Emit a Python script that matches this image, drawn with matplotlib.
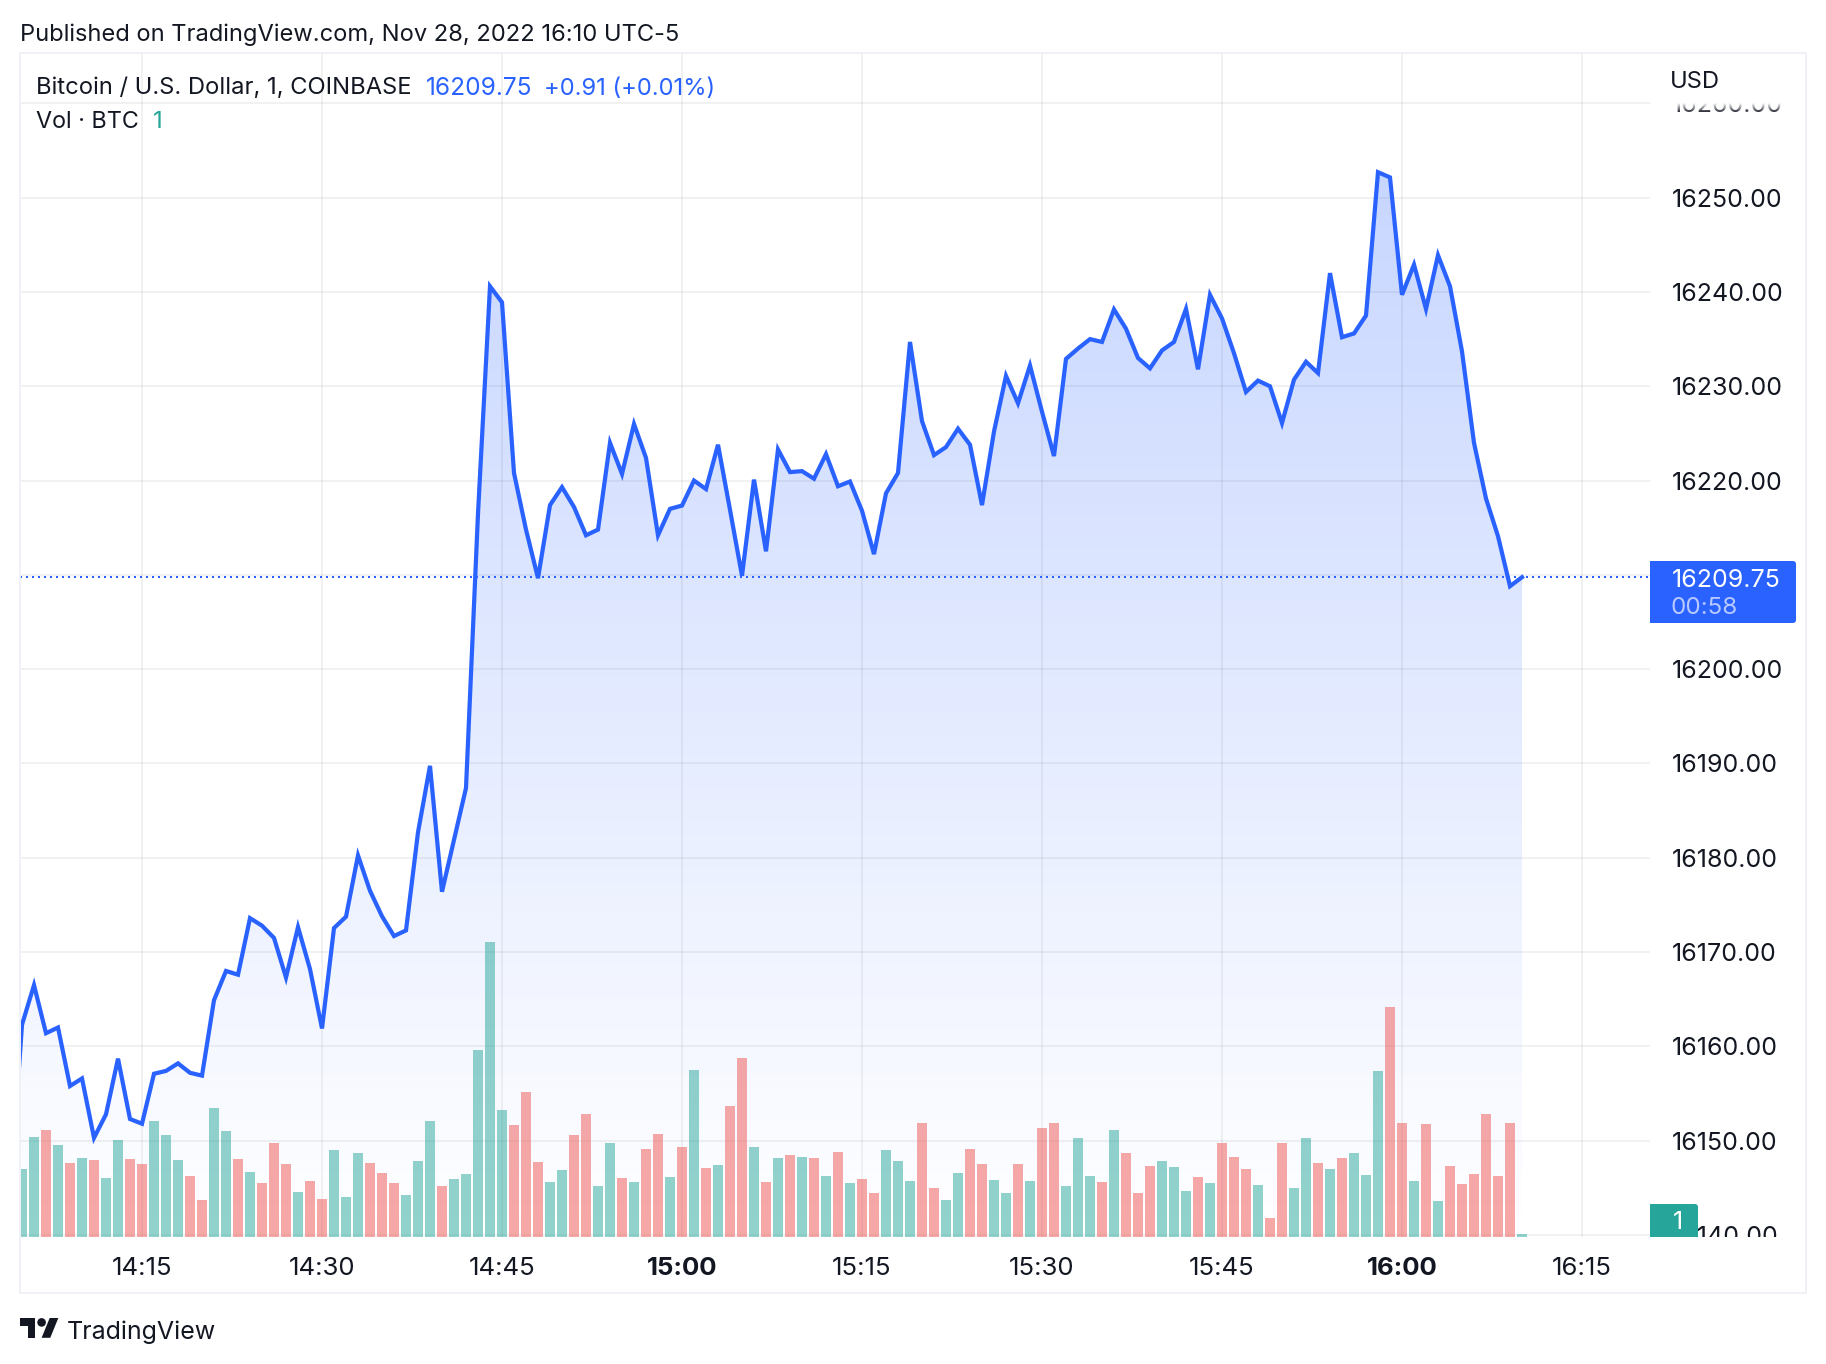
#!/usr/bin/env python
# BTC/USD 1 minute area chart with volume bars

import numpy as np
import matplotlib
matplotlib.use("Agg")
import matplotlib.pyplot as plt
from matplotlib.colors import to_rgb
from matplotlib.patches import FancyBboxPatch, Polygon, Rectangle, Circle
from matplotlib.transforms import Bbox

# minutes after 14:00, price starts one bar before the left edge
start_minute = 4

prices = [
    16144.0, 16162.3, 16166.5, 16161.4, 16162.0, 16155.8, 16156.6, 16150.3, 16152.8, 16158.7,
    16152.3, 16151.8, 16157.1, 16157.4, 16158.2, 16157.2, 16156.9, 16164.9, 16168.0, 16167.6,
    16173.6, 16172.8, 16171.5, 16167.3, 16172.65, 16168.2, 16161.9, 16172.55, 16173.75, 16180.25,
    16176.5, 16173.8, 16171.7, 16172.3, 16182.7, 16189.75, 16176.4, 16181.9, 16187.4, 16216.5,
    16240.6, 16238.9, 16220.8, 16214.8, 16209.65, 16217.4, 16219.3, 16217.2, 16214.2, 16214.8,
    16224.0, 16220.7, 16226.0, 16222.4, 16214.2, 16217.0, 16217.35, 16220.0, 16219.1, 16223.8,
    16216.9, 16209.9, 16220.1, 16212.5, 16223.3, 16220.9, 16221.0, 16220.2, 16222.8, 16219.4,
    16219.9, 16216.8, 16212.2, 16218.65, 16220.8, 16234.7, 16226.3, 16222.7, 16223.55, 16225.5,
    16223.8, 16217.4, 16225.2, 16231.1, 16228.2, 16232.2, 16227.3, 16222.6, 16232.9, 16234.0,
    16235.0, 16234.7, 16238.15, 16236.1, 16233.0, 16231.9, 16233.8, 16234.7, 16238.2, 16231.8,
    16239.7, 16237.2, 16233.5, 16229.4, 16230.6, 16230.0, 16226.1, 16230.7, 16232.6, 16231.4,
    16242.0, 16235.2, 16235.6, 16237.5, 16252.7, 16252.15, 16239.7, 16242.9, 16238.2, 16243.9,
    16240.6, 16233.7, 16224.0, 16218.1, 16214.1, 16208.8, 16209.75,
]

# bar heights, from 14:05
volumes = [
    68, 100, 107, 92, 74, 79, 77, 59, 97, 78, 73, 116, 102, 77, 61, 37, 129, 106, 78, 65,
    54, 94, 73, 45, 56, 38, 87, 40, 84, 74, 64, 54, 42, 76, 116, 51, 58, 63, 187, 295,
    127, 112, 145, 75, 55, 67, 102, 123, 51, 94, 59, 55, 88, 103, 60, 90, 167, 69, 72, 131,
    179, 90, 55, 79, 82, 80, 79, 61, 85, 54, 58, 44, 87, 76, 56, 114, 49, 37, 64, 88,
    73, 57, 44, 73, 56, 109, 114, 51, 99, 61, 55, 107, 84, 44, 71, 76, 70, 46, 60, 54,
    94, 80, 68, 52, 19, 94, 49, 99, 74, 68, 79, 84, 62, 166, 230, 114, 56, 113, 36, 71,
    53, 63, 123, 61, 114, 3,
]

# 1 = up bar, 0 = down bar
vol_up = [
    1, 1, 0, 1, 0, 1, 0, 1, 1, 0, 0, 1, 1, 1, 0, 0, 1, 1, 0, 1,
    0, 0, 0, 1, 0, 0, 1, 1, 1, 0, 0, 0, 1, 1, 1, 0, 1, 1, 1, 1,
    1, 0, 0, 0, 1, 1, 0, 0, 1, 1, 0, 1, 0, 0, 1, 0, 1, 0, 1, 0,
    0, 1, 0, 1, 0, 1, 0, 1, 0, 1, 0, 0, 1, 1, 1, 0, 0, 1, 1, 0,
    0, 1, 1, 0, 1, 0, 0, 1, 1, 1, 0, 1, 0, 0, 0, 1, 1, 1, 0, 1,
    0, 0, 0, 1, 0, 0, 1, 1, 0, 1, 0, 1, 1, 1, 0, 0, 1, 0, 1, 0,
    0, 0, 0, 0, 0, 1,
]

price_ticks = list(range(16140, 16270, 10))
time_ticks = [15, 30, 45, 60, 75, 90, 105, 120, 135]
time_labels = ["14:15", "14:30", "14:45", "15:00", "15:15", "15:30", "15:45", "16:00", "16:15"]
bold_labels = ["15:00", "16:00"]
last_price = 16209.75

W, H = 1826, 1364
BLUE = "#2962ff"
GRID = "#2a2e39"
FRAME = "#eff1f7"
INK = "#131722"
TEAL = "#26a69a"
RED = "#ef5350"
FONT = "Inter"
PX = 72 / 100.0  # points per pixel at dpi 100

plt.rcParams["font.family"] = [FONT, "DejaVu Sans"]

fig = plt.figure(figsize=(W / 100, H / 100), dpi=100, facecolor="white")

# pane in pixels
left, right, top, bottom = 20, 1650, 53, 1236.7
pane = [left / W, 1 - bottom / H, (right - left) / W, (bottom - top) / H]
ax = fig.add_axes(pane)
ax2 = ax.twinx()

minutes = np.arange(len(prices)) + start_minute
ax.plot(minutes, prices, color=BLUE, lw=4.2 * PX, solid_joinstyle="miter", zorder=3)

# area under the line, blue fading to nothing
rgba = np.zeros((256, 1, 4))
rgba[:, :, :3] = to_rgb(BLUE)
rgba[:, 0, 3] = np.linspace(0.29, 0.0, 256)
grad = ax.imshow(rgba, extent=(4.833, 140.667, 16139.82, 16265.34), aspect="auto", origin="upper", zorder=1)
verts = list(zip(minutes, prices)) + [(minutes[-1], 16139.82), (minutes[0], 16139.82)]
clip = Polygon(verts, closed=True, transform=ax.transData, fc="none", ec="none")
ax.add_patch(clip)
grad.set_clip_path(clip)
ax.set_xlim(4.833, 140.667)
ax.set_ylim(16139.82, 16265.34)

ax.axhline(last_price, color=BLUE, lw=2 * PX, ls=(0, (1, 2)), zorder=2)

ax.set_axisbelow("line")
ax.grid(True, color=GRID, alpha=0.07, lw=1.8 * PX)
ax.yaxis.tick_right()
ax.set_yticks(price_ticks)
ax.set_yticklabels(["%.2f" % p for p in price_ticks])
ax.set_xticks(time_ticks)
ax.set_xticklabels(time_labels)
ax.tick_params(axis="both", length=0, labelcolor=INK)
ax.tick_params(axis="y", pad=22 * PX, labelsize=18)
ax.tick_params(axis="x", pad=20 * PX, labelsize=18.6)
for lab in ax.get_xticklabels():
    if lab.get_text() in bold_labels:
        lab.set_fontweight("bold")
for lab in ax.get_yticklabels():
    lab.set_clip_box(Bbox([[0, H - bottom], [W, H - 103]]))
    lab.set_clip_on(True)
for s in ax.spines.values():
    s.set_visible(False)

# volume bars on their own scale
bar_minutes = np.arange(len(volumes)) + 5
bar_colors = [TEAL if u else RED for u in vol_up]
ax2.bar(bar_minutes, volumes, width=10 / 12, color=bar_colors, alpha=0.5, linewidth=0)
ax2.set_ylim(0, bottom - top)
ax2.set_axis_off()

# overlay in pixels for frame, badges, legend and logo
ov = fig.add_axes([0, 0, 1, 1], facecolor="none")
ov.set_xlim(0, W)
ov.set_ylim(H, 0)
ov.axis("off")
ov.add_patch(Rectangle((20, 53), 1786, 1240, fc="none", ec=FRAME, lw=2 * PX))

# top label fades out under the USD caption
fade = np.ones((32, 1, 4))
fade[:, 0, 3] = np.linspace(1, 0, 32)
ov.imshow(fade, extent=(1655, 1800, 113, 103), aspect="auto", origin="upper", zorder=1)
ov.set_xlim(0, W)
ov.set_ylim(H, 0)


def badge(x0, y0, x1, y1, color):
    ov.add_patch(FancyBboxPatch((x0 + 4, y0 + 3), x1 - x0 - 7, y1 - y0 - 6, boxstyle="round,pad=3,rounding_size=3",
                                fc=color, ec="none", mutation_aspect=1))
    ov.add_patch(Rectangle((x0, y0), 8, y1 - y0, fc=color, ec="none"))


def label(x, y, s, color=INK, size=17.1, **kw):
    ov.text(x, y, s, color=color, fontsize=size, va="center_baseline", ha=kw.pop("ha", "left"), **kw)


badge(1650, 561, 1796, 623, BLUE)
badge(1650, 1204, 1698, 1240, TEAL)
ov.add_patch(Rectangle((1650, bottom), 60, 8, fc="white", ec="none"))
label(1672, 578, "16209.75", "white", 18)
label(1671, 606, "00:58", "#b7c9ff", 17.4)
label(1678, 1220, "1", "white", 18, ha="center")

label(20, 32, "Published on TradingView.com, Nov 28, 2022 16:10 UTC-5", size=17.05)
label(36, 86, "Bitcoin / U.S. Dollar, 1, COINBASE")
label(426, 86, "16209.75", BLUE, 17.6)
label(544, 86, "+0.91 (+0.01%)", BLUE, 17.1)
label(36, 119, "Vol · BTC", size=16.8)
label(153, 119, "1", TEAL)
label(1670, 80, "USD")

# TradingView mark
sx, sy = 1.08, 1.1
def mark(u, v):
    return 20 + sx * u, 1318 + sy * (v - 4)

ov.add_patch(Polygon([mark(*p) for p in [(14, 22), (7, 22), (7, 11), (0, 11), (0, 4), (14, 4)]], fc=INK, ec="none"))
ov.add_patch(Polygon([mark(*p) for p in [(28, 22), (20, 22), (27.5, 4), (35.5, 4)]], fc=INK, ec="none"))
ov.add_patch(Circle(mark(20, 8), 4.3, fc=INK, ec="none"))
label(67, 1330, "TradingView", size=18)

fig.savefig("out.png", dpi=100, facecolor="white")
